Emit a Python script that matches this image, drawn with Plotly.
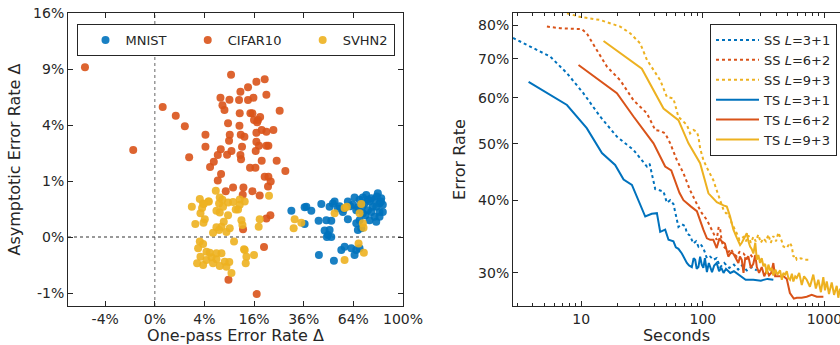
import numpy as np
import plotly.graph_objects as go

# ---------------- Left panel data (values in percent) ----------------
mnist_x = [30.26, 36.44, 37.27, 39.76, 45.0, 36.44, 43.55, 47.74, 50.56, 49.59, 52.47, 54.41, 57.42, 60.51,
           46.80, 48.64, 49.59, 48.07, 50.56, 64.77, 68.05, 72.58, 76.04, 80.75, 81.98, 77.17, 73.68, 70.26,
           81.98, 84.40, 78.38, 74.86, 79.59, 81.98, 68.05, 65.88, 63.68, 65.88, 66.93, 69.19, 56.45, 58.46,
           62.65, 64.77, 65.88, 68.05, 43.71, 52.06, 60.51, 55.42, 71.41, 73.68, 78.38, 83.22, 84.40, 79.59,
           51.48, 70.26, 75.0, 62.0, 58.0, 67.0, 80.0, 83.0, 76.0, 72.0, 70.0]
mnist_y = [0.22, 0.28, 0.29, 0.22, 0.35, 0.054, 0.085, 0.09, 0.085, 0.29, 0.40, 0.26, 0.20, 0.10,
           0.013, 0.0013, 0.016, 0.0, 0.0, 0.50, 0.44, 0.56, 0.48, 0.61, 0.36, 0.29, 0.23, 0.18,
           0.20, 0.20, 0.13, 0.09, 0.075, 0.13, 0.09, 0.23, 0.33, 0.06, 0.016, 0.024, -0.054, -0.030,
           -0.041, -0.103, -0.054, -0.041, -0.103, -0.179, 0.40, 0.30, 0.36, 0.44, 0.44, 0.48, 0.33, 0.29,
           0.36, 0.50, 0.40, 0.30, 0.25, 0.28, 0.52, 0.40, 0.20, 0.15, 0.30]

cifar_x = [-7.93, -0.76, 0.10, 0.71, 1.46, 1.91, 4.16, 4.16, 4.95, 5.64, 6.43, 6.43, 6.99, 7.42, 7.87,
           7.12, 7.05, 8.70, 9.04, 9.11, 8.94, 9.43, 9.53, 8.47, 9.93, 8.16, 11.70, 11.62, 11.89, 11.51,
           11.98, 12.34, 11.89, 12.06, 12.74, 12.54, 13.03, 14.10, 14.10, 14.83, 15.46, 15.78, 15.46, 14.71,
           15.97, 16.75, 16.75, 16.52, 16.42, 16.75, 17.28, 17.62, 18.54, 18.54, 19.59, 20.20, 20.20, 20.20,
           20.93, 20.93, 21.79, 20.79, 22.82, 25.30, 24.10, 27.66, 21.68, 20.20, 12.63, 19.35, 8.80, 16.85,
           17.85, 19.59, 18.0, 17.0]
cifar_y = [9.18, 2.41, 5.39, 4.69, 3.91, 2.03, 3.34, 2.60, 1.56, 1.81, 1.02, 2.14, 6.19, 5.53, 5.14,
           1.27, 2.45, 4.12, 6.01, 3.34, 2.96, 8.40, 2.36, 2.16, 0.78, 0.67, 4.88, 3.95, 6.73, 5.98,
           3.34, 2.60, 2.14, 1.93, 0.78, 0.57, 3.21, 7.15, 5.98, 4.88, 4.88, 6.19, 0.67, 1.53,
           4.37, 7.69, 2.90, 2.36, 1.53, 3.47, 4.37, 2.66, 1.86, 3.65, 7.93, 6.46, 3.54, 2.66,
           1.16, 2.66, 0.98, 0.81, 3.65, 5.09, 1.86, 1.39, 0.15, 0.11, 0.019, -0.032, -0.58, -1.04,
           0.55, 1.16, 4.6, 4.2]

svhn_x = [6.03, 3.28, 3.78, 2.22, 3.62, 4.72, 3.38, 4.05, 2.66, 3.84, 6.84, 7.42, 8.70, 9.93, 11.70,
          13.12, 6.70, 7.55, 6.16, 6.84, 8.70, 7.71, 7.20, 6.16, 5.50, 6.70, 9.11, 8.32, 11.70, 11.24,
          12.17, 12.46, 10.62, 21.16, 17.85, 17.51, 10.18, 3.28, 3.04, 3.78, 4.33, 3.38, 2.90, 4.33,
          5.21, 6.16, 7.20, 7.93, 6.84, 5.50, 4.90, 3.78, 6.16, 8.32, 13.12, 13.62, 13.41, 15.97, 9.53,
          12.91, 31.74, 31.29, 34.85, 52.47, 58.46, 59.88, 68.05, 69.19, 70.26, 70.73, 67.39, 70.94,
          58.46, 4.67, 3.89, 9.0]
svhn_y = [0.68, 0.46, 0.36, 0.29, 0.27, 0.40, 0.18, 0.10, 0.054, 0.065, 0.50, 0.44, 0.38, 0.39, 0.45,
          0.40, 0.36, 0.29, 0.22, 0.19, 0.15, 0.075, 0.034, 0.030, 0.006, 0.016, 0.024, 0.008, 0.33, 0.24,
          0.09, 0.046, 0.24, 0.54, 0.10, 0.034, -0.0065, -0.0065, -0.041, -0.016, -0.069, -0.124, -0.221,
          -0.169, -0.131, -0.159, -0.085, -0.195, -0.268, -0.221, -0.079, -0.25, -0.085, -0.281, -0.054,
          -0.124, -0.221, -0.103, -0.413, -0.048, 0.10, 0.024, 0.065, 0.18, 0.27, 0.29, 0.18, 0.35, 0.06,
          0.028, -0.013, -0.079, -0.169, 0.40, 0.35, -0.20]

x_tick_pct = [-4, 0, 4, 16, 36, 64, 100]
y_tick_pct = [-1, 0, 1, 4, 9, 16]

# ---------------- Right panel data ----------------
ss3_t = [2.75, 5.56, 7.63, 10.4, 14.3, 19.7, 26.9, 34.7, 36.5, 38.1, 40.6, 44, 47.5, 50.6, 53.9, 57.3, 61,
         63, 67, 71.5, 73.9, 78, 83.7, 88, 92, 96, 101, 105, 108, 115, 122, 130, 139, 150, 165, 180, 195,
         210, 230, 250, 278]
ss3_e = [0.760, 0.706, 0.661, 0.611, 0.557, 0.514, 0.488, 0.457, 0.462, 0.445, 0.418, 0.416, 0.414, 0.396,
         0.400, 0.394, 0.372, 0.360, 0.364, 0.361, 0.351, 0.348, 0.337, 0.340, 0.333, 0.336, 0.331, 0.322,
         0.318, 0.320, 0.316, 0.318, 0.307, 0.312, 0.306, 0.310, 0.304, 0.309, 0.303, 0.307, 0.303]

ss6_t = [5.22, 6.72, 10.1, 11.1, 13.5, 16.3, 20.9, 26.9, 34.7, 40.6, 45, 49, 53.9, 61.1, 69.3, 78.6, 89.3,
         98.1, 108, 114.8, 122, 127, 130, 135, 139, 143, 148, 155, 163, 170, 178, 190, 200, 216, 230, 245,
         260, 278]
ss6_e = [0.795, 0.790, 0.787, 0.774, 0.723, 0.678, 0.643, 0.594, 0.564, 0.528, 0.526, 0.521, 0.501, 0.469,
         0.445, 0.416, 0.394, 0.380, 0.370, 0.360, 0.351, 0.345, 0.342, 0.360, 0.356, 0.340, 0.333, 0.330,
         0.326, 0.330, 0.324, 0.320, 0.326, 0.324, 0.318, 0.323, 0.318, 0.322]

ss9_t = [7.63, 9.81, 14.3, 20.9, 25.3, 30.5, 34.7, 39.3, 44.6, 50.6, 57.3, 63, 69.3, 73.9, 78.6, 84, 89.3,
         92, 95, 101, 108, 114.8, 122, 130, 139, 148, 155, 162, 173, 182, 190, 200, 216, 226, 237, 248, 260,
         272, 286, 300, 315, 330, 346, 362, 380, 400, 418, 446, 460, 490, 520, 539, 555, 575, 592, 640, 690,
         738]
ss9_e = [0.838, 0.826, 0.816, 0.795, 0.774, 0.744, 0.697, 0.670, 0.643, 0.602, 0.598, 0.556, 0.546, 0.539,
         0.521, 0.528, 0.524, 0.514, 0.491, 0.469, 0.455, 0.445, 0.433, 0.416, 0.400, 0.385, 0.380, 0.380,
         0.365, 0.358, 0.351, 0.342, 0.346, 0.340, 0.348, 0.338, 0.346, 0.340, 0.349, 0.338, 0.344, 0.340,
         0.349, 0.338, 0.347, 0.340, 0.352, 0.340, 0.333, 0.331, 0.338, 0.333, 0.320, 0.322, 0.316, 0.318,
         0.316, 0.316]

ts3_t = [3.69, 7.63, 11.1, 14.8, 19.0, 22.3, 26.1, 28.7, 33.6, 38, 41.9, 44.6, 49, 52.2, 57.3, 60, 63, 67.2,
         70, 73.9, 77, 81.2, 84, 86.5, 89, 92, 95, 98, 101, 104, 108, 112, 119, 124, 130, 136, 142, 148, 155,
         168, 180, 202, 225, 260, 300, 340, 380]
ts3_e = [0.639, 0.583, 0.532, 0.482, 0.460, 0.434, 0.425, 0.406, 0.375, 0.379, 0.380, 0.353, 0.356, 0.342,
         0.340, 0.332, 0.330, 0.324, 0.318, 0.312, 0.309, 0.307, 0.318, 0.316, 0.305, 0.307, 0.320, 0.310,
         0.306, 0.318, 0.301, 0.312, 0.301, 0.309, 0.312, 0.302, 0.306, 0.300, 0.305, 0.300, 0.302, 0.297,
         0.292, 0.292, 0.291, 0.293, 0.292]

ts6_t = [9.5, 19.65, 26.9, 39.3, 49, 55, 64.2, 69.3, 80, 89.3, 101, 108, 115, 122, 130, 137, 143, 152, 162,
         170, 178, 188, 196, 202, 209, 216, 223, 230, 237, 248, 260, 270, 278, 290, 305, 320, 336, 350, 365,
         380, 393, 410, 432, 460, 490, 520, 560, 592, 650, 715, 786, 865, 980]
ts6_e = [0.683, 0.611, 0.557, 0.501, 0.457, 0.450, 0.412, 0.400, 0.390, 0.383, 0.356, 0.344, 0.342, 0.342,
         0.331, 0.344, 0.340, 0.337, 0.320, 0.325, 0.324, 0.316, 0.312, 0.320, 0.316, 0.300, 0.318, 0.317,
         0.320, 0.306, 0.311, 0.322, 0.307, 0.300, 0.307, 0.296, 0.303, 0.297, 0.300, 0.312, 0.296, 0.296,
         0.296, 0.296, 0.293, 0.277, 0.271, 0.272, 0.272, 0.273, 0.275, 0.273, 0.273]

ts9_t = [15.25, 31.5, 47.5, 63, 76.2, 95, 111.2, 130.3, 148, 157.5, 167.6, 178.4, 190, 202.5, 209, 215.6,
         222, 229.9, 237, 244.7, 252, 260.5, 270, 277.8, 286, 295.6, 305, 314.8, 325, 335.8, 346, 357.3, 368,
         380.3, 395, 410, 431.8, 446, 459.6, 475, 490, 505, 521.6, 540, 555, 575, 592, 620, 651, 680, 715,
         760, 810, 850, 891, 935, 979, 1010, 1045, 1090, 1148, 1200, 1262, 1300, 1343]
ts9_e = [0.751, 0.673, 0.575, 0.549, 0.501, 0.463, 0.411, 0.397, 0.392, 0.390, 0.375, 0.356, 0.345, 0.335,
         0.338, 0.342, 0.347, 0.351, 0.340, 0.333, 0.330, 0.324, 0.338, 0.316, 0.322, 0.312, 0.318, 0.308,
         0.311, 0.299, 0.310, 0.303, 0.306, 0.297, 0.304, 0.298, 0.303, 0.292, 0.300, 0.298, 0.302, 0.294,
         0.292, 0.299, 0.290, 0.296, 0.294, 0.300, 0.286, 0.296, 0.292, 0.284, 0.298, 0.282, 0.292, 0.278,
         0.295, 0.280, 0.290, 0.276, 0.289, 0.275, 0.285, 0.272, 0.282]

err_ticks = [0.3, 0.4, 0.5, 0.6, 0.7, 0.8]
sec_ticks = [10, 100, 1000]
sec_minor = [3, 4, 5, 6, 7, 8, 9, 20, 30, 40, 50, 60, 70, 80, 90, 200, 300, 400, 500, 600, 700, 800, 900]

BLUE, ORANGE, YELLOW = '#0072BD', '#D95319', '#EDB120'
INK = '#262626'
FONT = 'DejaVu Sans'
NB = '\u00a0'


def ssqrt(p):
    p = np.asarray(p, dtype=float) / 100.0
    return np.sign(p) * np.sqrt(np.abs(p))


fig = go.Figure()
for nm, xs, ys, col in [('MNIST' + NB * 2, mnist_x, mnist_y, BLUE),
                        ('CIFAR10' + NB * 2, cifar_x, cifar_y, ORANGE),
                        ('SVHN2', svhn_x, svhn_y, YELLOW)]:
    fig.add_trace(go.Scatter(x=ssqrt(xs), y=ssqrt(ys), mode='markers', name=nm,
                             marker=dict(color=col, size=8, opacity=0.9, line=dict(width=0)),
                             xaxis='x', yaxis='y', legend='legend'))

for nm, ts, es, col, dash in [('SS <i>L</i>=3+1', ss3_t, ss3_e, BLUE, 'dot'),
                              ('SS <i>L</i>=6+2', ss6_t, ss6_e, ORANGE, 'dot'),
                              ('SS <i>L</i>=9+3', ss9_t, ss9_e, YELLOW, 'dot'),
                              ('TS <i>L</i>=3+1', ts3_t, ts3_e, BLUE, 'solid'),
                              ('TS <i>L</i>=6+2', ts6_t, ts6_e, ORANGE, 'solid'),
                              ('TS <i>L</i>=9+3', ts9_t, ts9_e, YELLOW, 'solid')]:
    fig.add_trace(go.Scatter(x=ts, y=es, mode='lines', name=nm,
                             line=dict(color=col, width=2, dash=dash),
                             xaxis='x2', yaxis='y2', legend='legend2'))

axis_common = dict(showline=True, linecolor=INK, linewidth=1, ticks='inside', ticklen=5,
                   tickcolor=INK, showgrid=False, zeroline=False, automargin=False,
                   ticklabeloverflow='allow',
                   tickfont=dict(family=FONT, size=14, color=INK))
title_font = dict(family=FONT, size=16, color=INK)

fig.update_layout(
    width=840, height=345,
    margin=dict(l=0, r=0, t=13, b=39, autoexpand=False),
    paper_bgcolor='white', plot_bgcolor='white',
    font=dict(family=FONT, color=INK),
    xaxis=dict(domain=[68 / 840, 403 / 840], anchor='y', range=[-0.35, 1.0], mirror='ticks',
               tickvals=ssqrt(x_tick_pct), ticktext=[f'{v}%' for v in x_tick_pct], ticklabelstandoff=0,
               title=dict(text='One-pass Error Rate Δ', font=title_font, standoff=5), **axis_common),
    yaxis=dict(domain=[0, 1], anchor='x', range=[-0.1232, 0.4], mirror='ticks',
               tickvals=ssqrt(y_tick_pct), ticktext=[f'{v}%' for v in y_tick_pct],
               title=dict(text='Asymptotic Error Rate Δ', font=title_font, standoff=8), **axis_common),
    xaxis2=dict(domain=[513 / 840, 1.0], anchor='y2', type='log', range=[0.4388, 3.128], mirror='ticks',
                tickvals=sec_ticks, ticktext=[str(v) for v in sec_ticks], ticklabelstandoff=0,
                minor=dict(tickvals=sec_minor, ticks='inside', ticklen=3, tickcolor=INK, showgrid=False),
                title=dict(text='Seconds', font=title_font, standoff=5), **axis_common),
    yaxis2=dict(domain=[0, 1], anchor='x2', type='log', range=[-0.5797, -0.0763], mirror=False,
                tickvals=err_ticks, ticktext=[f'{int(round(v * 100))}%' for v in err_ticks],
                title=dict(text='Error Rate', font=title_font, standoff=8), **axis_common),
    legend=dict(orientation='h', x=235.5 / 840, xanchor='center', y=(306 - 24) / 293, yanchor='top',
                bgcolor='white', bordercolor=INK, borderwidth=1, indentation=8,
                font=dict(family=FONT, size=13, color=INK)),
    legend2=dict(orientation='v', x=837 / 840, xanchor='right', y=(306 - 24) / 293, yanchor='top',
                 bgcolor='white', bordercolor=INK, borderwidth=1, itemwidth=43,
                 font=dict(family=FONT, size=13, color=INK)),
    shapes=[
        dict(type='line', xref='x', yref='y domain', x0=0, x1=0, y0=0, y1=1, layer='below',
             line=dict(color='#666666', width=1, dash='dot')),
        dict(type='line', xref='x domain', yref='y', x0=0, x1=1, y0=0, y1=0, layer='below',
             line=dict(color='#333333', width=1, dash='dot')),
    ],
    showlegend=True,
)

fig.write_html('out.html', config={'displayModeBar': False},
               post_script="document.body.style.margin='0';document.body.style.overflow='hidden';")
